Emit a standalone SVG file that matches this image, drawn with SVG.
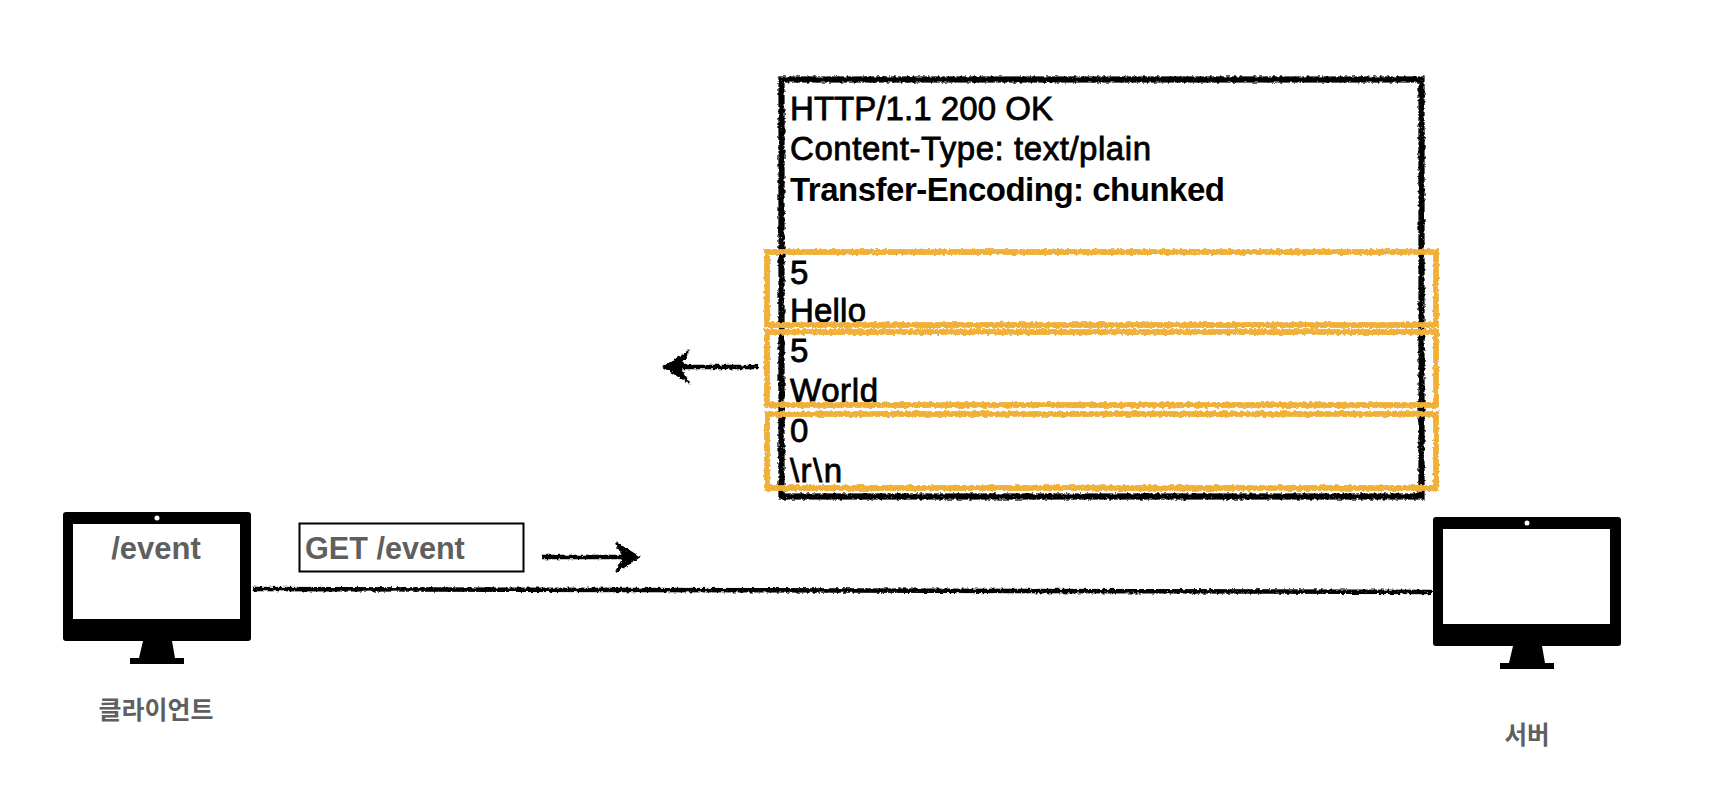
<svg xmlns="http://www.w3.org/2000/svg" width="1720" height="806" viewBox="0 0 1720 806">
  <defs>
    <filter id="chalk" filterUnits="userSpaceOnUse" x="0" y="0" width="1720" height="806">
      <feTurbulence type="fractalNoise" baseFrequency="0.3" numOctaves="2" seed="4" result="n"/>
      <feDisplacementMap in="SourceGraphic" in2="n" scale="4" xChannelSelector="R" yChannelSelector="G" result="d"/>
      <feTurbulence type="fractalNoise" baseFrequency="0.8" numOctaves="1" seed="12" result="g"/>
      <feColorMatrix in="g" type="matrix" values="0 0 0 0 0  0 0 0 0 0  0 0 0 0 0  0 0 0 -6 5.200" result="m"/>
      <feComposite in="d" in2="m" operator="in"/>
    </filter>
    <symbol id="monitor" overflow="visible">
      <path fill="#000" fill-rule="evenodd" d="M3 0H185Q188 0 188 3V126Q188 129 185 129H3Q0 129 0 126V3Q0 0 3 0ZM10 12V107H177V12ZM94 3.500A2.500 2.500 0 1 0 94 8.500A2.500 2.500 0 1 0 94 3.500Z"/>
      <path fill="#000" d="M80 129H109L112 146H121V152H67V146H76Z"/>
    </symbol>
  </defs>
  <style>
    text { font-family: "Liberation Sans", Arial, "Noto Sans CJK KR", sans-serif; }
    .body { font-size: 33px; fill: #000; stroke: #000; stroke-width: 0.8px; }
    .bold { font-weight: 700; stroke: none; }
    .label { font-weight: 700; fill: #5f5f5f; }
    .black { fill: none; stroke: #000; stroke-width: 6.200; filter: url(#chalk); }
    .orange { fill: none; stroke: #f0b038; stroke-width: 5.800; filter: url(#chalk); }
    .wire { fill: none; stroke: #000; stroke-width: 4.500; filter: url(#chalk); }
    .head { fill: #000; stroke: #000; stroke-width: 2; filter: url(#chalk); }
  </style>
  <rect width="1720" height="806" fill="#fff"/>

  <g id="message">
    <rect class="black" x="781.500" y="79.500" width="640" height="417"/>
    <text class="body" x="790" y="120" textLength="263">HTTP/1.1 200 OK</text>
    <text class="body" x="790" y="160" textLength="361">Content-Type: text/plain</text>
    <text class="body bold" x="790" y="201" textLength="435">Transfer-Encoding: chunked</text>
    <text class="body" x="790" y="284">5</text>
    <text class="body" x="790" y="322" textLength="76">Hello</text>
    <text class="body" x="790" y="362">5</text>
    <text class="body" x="790" y="402" textLength="88">World</text>
    <text class="body" x="790" y="442">0</text>
    <text class="body" x="790" y="482" textLength="52">\r\n</text>
  </g>
  <g id="chunk-hello"><rect class="orange" x="767" y="252" width="669" height="73"/></g>
  <g id="chunk-world"><rect class="orange" x="767" y="332" width="669" height="73"/></g>
  <g id="chunk-end"><rect class="orange" x="767" y="414" width="669" height="74"/></g>

  <g id="client">
    <use href="#monitor" x="63" y="512"/>
    <text class="label" x="156" y="559" font-size="31" text-anchor="middle">/event</text>
    <text class="label" x="156" y="719" font-size="25" text-anchor="middle">클라이언트</text>
  </g>
  <g id="server">
    <use href="#monitor" x="1433" y="517"/>
    <text class="label" x="1527" y="744" font-size="24.500" text-anchor="middle">서버</text>
  </g>
  <g id="request">
    <rect x="299.500" y="523.500" width="224" height="48" fill="#fff" stroke="#000" stroke-width="2"/>
    <text class="label" x="305" y="559" font-size="30.600">GET /event</text>
  </g>

  <g id="connectors">
    <path class="wire" d="M253 589L1432 592"/>
    <path class="wire" d="M542 557H634"/>
    <path class="head" d="M616 543L639 557L616 572L624 557Z"/>
    <path class="wire" d="M758 367H670"/>
    <path class="head" d="M688 352L664 367L688 382L680 367Z"/>
  </g>
</svg>
